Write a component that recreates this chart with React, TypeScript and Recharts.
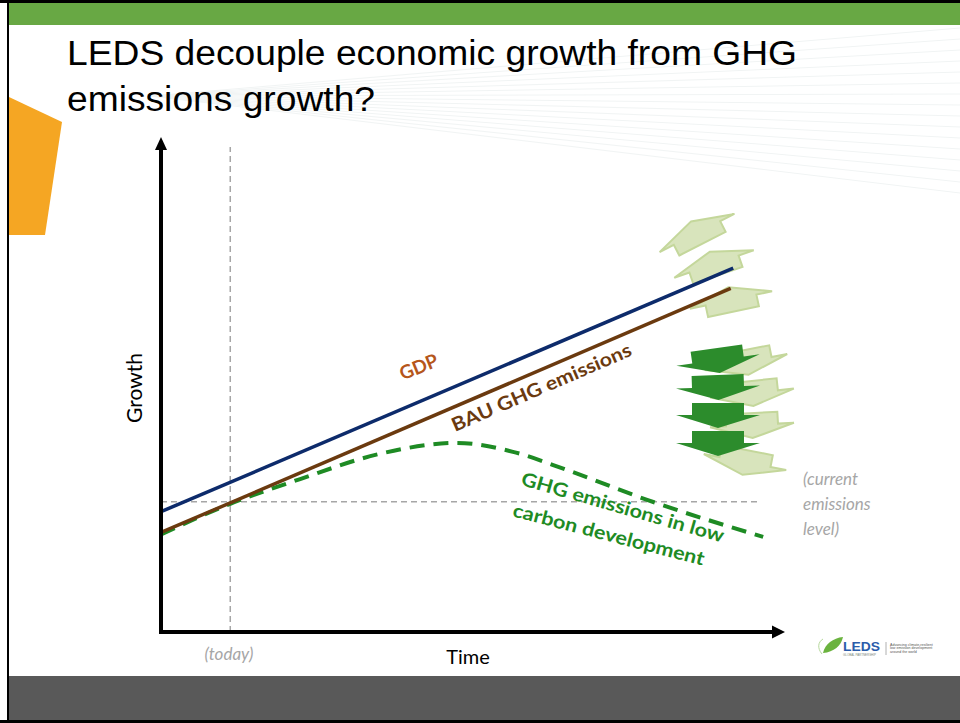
import React from 'react';
import { LineChart, Line, XAxis, YAxis, ReferenceLine, ReferenceDot } from 'recharts';

// conceptual chart: time (0-100) vs growth (0-100), no real units
const gdpTime = [0, 91.7];
const gdpLevel = [24.3, 73.5];
const bauTime = [0, 91.3];
const bauLevel = [20.1, 69.4];
const lowTime = [0, 11.1, 22.3, 35.1, 47.4, 56.4, 65.1, 77.9, 96.5];
const lowLevel = [19.7, 25.9, 30.9, 36.0, 38.2, 36.4, 32.7, 26.7, 19.2];
const todayTime = 11.1;
const currentLevel = 26.3;

const toRows = (ts: number[], vs: number[]) => ts.map((t, i) => ({ t, v: vs[i] }));

const labelText = ['GDP', 'BAU GHG emissions', 'GHG emissions in low', 'carbon development'];
const labelTime = [41.7, 61.4, 73.7, 71.5];
const labelLevel = [52.3, 48.2, 23.9, 18.4];
const labelAngle = [-22, -23.4, 16, 14.5];
const labelColor = ['#B5561B', '#6B3A0F', '#1E8B24', '#1E8B24'];
const labelLen = [40, 194, 210, 197];

const CALIBRI = 'Lato, "Open Sans", sans-serif';

// block arrow polygon, centred on the wing line
function arrowPoints(cx: number, cy: number, angle: number, dir: number) {
  const w = 42, b = 26, h = 13, bh = 12;
  const pts = [[-b, -bh], [b, -bh], [b, 0], [w, 0], [0, h], [-w, 0], [-b, 0]];
  const a = (angle * Math.PI) / 180;
  return pts
    .map(([x, y]) => {
      const yy = y * dir;
      return `${(cx + x * Math.cos(a) - yy * Math.sin(a)).toFixed(1)},${(cy + x * Math.sin(a) + yy * Math.cos(a)).toFixed(1)}`;
    })
    .join(' ');
}

const lightUp = [[697, 233, -27], [714, 264, -19], [731, 300, -12]];
const lightDown = [[746, 362, -11], [752, 393, -6], [752, 425, -3], [745, 462, 11]];
const darkDown = [[718, 360, -8], [718, 387, -2], [718, 415, 0], [718, 443, 0]];

function Slide() {
  const fan = Array.from({ length: 16 }, (_, i) => i);
  return (
    <svg width={960} height={723} style={{ position: 'absolute', left: 0, top: 0 }}>
      <rect x={0} y={0} width={960} height={723} fill="#fff" />
      {fan.map((i) => (
        <line key={i} x1={150} y1={96} x2={960} y2={28 + i * 11} stroke="#F1F4F4" strokeWidth={1} />
      ))}
      <rect x={9} y={3} width={951} height={22} fill="#68A844" />
      <rect x={9} y={676} width={951} height={44} fill="#595959" />
      <rect x={0} y={0} width={960} height={3} fill="#000" />
      <rect x={7} y={0} width={2} height={723} fill="#000" />
      <rect x={0} y={720} width={960} height={3} fill="#000" />
      <polygon points="9,97 62,122 45,235 9,235" fill="#F5A623" />

      <text x={67} y={65} fontFamily='"Liberation Sans", Arial, sans-serif' fontSize={35} fill="#000"
        textLength={730} lengthAdjust="spacingAndGlyphs">LEDS decouple economic growth from GHG</text>
      <text x={67} y={111} fontFamily='"Liberation Sans", Arial, sans-serif' fontSize={35} fill="#000"
        textLength={308} lengthAdjust="spacingAndGlyphs">emissions growth?</text>

      {lightUp.map(([x, y, a], i) => (
        <polygon key={'u' + i} points={arrowPoints(x, y, a, -1)} fill="#D8E4BC" stroke="#C4D79B" strokeWidth={2} />
      ))}
      {lightDown.map(([x, y, a], i) => (
        <polygon key={'d' + i} points={arrowPoints(x, y, a, 1)} fill="#D8E4BC" stroke="#C4D79B" strokeWidth={2} />
      ))}
      {darkDown.map(([x, y, a], i) => (
        <polygon key={'k' + i} points={arrowPoints(x, y, a, 1)} fill="#2C8C2C" />
      ))}

      <text x={142} y={388} transform="rotate(-90 142 388)" textAnchor="middle" fontFamily={CALIBRI} fontSize={21} fill="#000">Growth</text>
      <text x={468} y={664} textAnchor="middle" fontFamily={CALIBRI} fontSize={20} fill="#000">Time</text>
      <text x={229} y={660} textAnchor="middle" fontFamily={CALIBRI} fontStyle="italic" fontSize={17} fill="#A6A6A6">(today)</text>
      <g fontFamily={CALIBRI} fontStyle="italic" fontSize={17} fill="#A6A6A6">
        <text x={803} y={485}>(current</text>
        <text x={803} y={510}>emissions</text>
        <text x={803} y={535}>level)</text>
      </g>

      <path d="M823,653 C825,644 833,638 843,637 C841,646 834,652 823,653 Z" fill="#6BB33F" />
      <path d="M822,654 C817,648 818,642 823,639" fill="none" stroke="#B5D89A" strokeWidth={1} />
      <text x={843} y={651} fontFamily='"Liberation Sans", Arial, sans-serif' fontWeight="bold" fontSize={13}
        fill="#2A5CAA" textLength={37} lengthAdjust="spacingAndGlyphs">LEDS</text>
      <text x={843} y={655.5} fontFamily='"Liberation Sans", Arial, sans-serif' fontSize={3.5} fill="#7A8A7A"
        textLength={33} lengthAdjust="spacingAndGlyphs">GLOBAL PARTNERSHIP</text>
      <line x1={886} y1={642} x2={886} y2={655} stroke="#B0B0B0" strokeWidth={1} />
      <g fontFamily='"Liberation Sans", Arial, sans-serif' fontSize={3.6} fill="#555">
        <text x={890} y={645.5}>Advancing climate-resilient</text>
        <text x={890} y={649}>low emission development</text>
        <text x={890} y={652.5}>around the world</text>
      </g>
    </svg>
  );
}

const SeriesLabel = (i: number) => (props: any) => {
  const { cx, cy } = props;
  return (
    <text x={cx} y={cy} textAnchor="middle" transform={`rotate(${labelAngle[i]} ${cx} ${cy})`}
      fontFamily={CALIBRI} fontWeight="bold" fontSize={19} fill={labelColor[i]}
      textLength={labelLen[i]} lengthAdjust="spacingAndGlyphs">
      {labelText[i]}
    </text>
  );
};

const ArrowRight = (props: any) => {
  const { cx, cy } = props;
  return <polygon points={`${cx},${cy} ${cx - 13},${cy - 6.5} ${cx - 13},${cy + 6.5}`} fill="#000" />;
};
const ArrowUp = (props: any) => {
  const { cx, cy } = props;
  return <polygon points={`${cx},${cy} ${cx - 6},${cy + 13} ${cx + 6},${cy + 13}`} fill="#000" />;
};

export default function App() {
  return (
    <div style={{ position: 'absolute', left: 0, top: 0, width: 960, height: 723, overflow: 'hidden', background: '#fff' }}>
      <Slide />
      <div style={{ position: 'absolute', left: 0, top: 0 }}>
        <LineChart width={960} height={723} margin={{ top: 137, right: 175, bottom: 91, left: 161 }}>
          <XAxis type="number" dataKey="t" domain={[0, 100]} hide allowDataOverflow />
          <YAxis type="number" dataKey="v" domain={[0, 100]} hide allowDataOverflow />
          <ReferenceLine segment={[{ x: todayTime, y: 0 }, { x: todayTime, y: 98 }]}
            stroke="#A6A6A6" strokeWidth={1.5} strokeDasharray="6 4" />
          <ReferenceLine segment={[{ x: 0, y: currentLevel }, { x: 96, y: currentLevel }]}
            stroke="#A6A6A6" strokeWidth={1.5} strokeDasharray="6 4" />
          <Line data={toRows(lowTime, lowLevel)} dataKey="v" type="monotone" stroke="#1E8B24" strokeWidth={4}
            strokeDasharray="15 9" dot={false} isAnimationActive={false} />
          <Line data={toRows(bauTime, bauLevel)} dataKey="v" type="linear" stroke="#6B3A0F" strokeWidth={3.5}
            dot={false} isAnimationActive={false} />
          <Line data={toRows(gdpTime, gdpLevel)} dataKey="v" type="linear" stroke="#0D2B6B" strokeWidth={3.5}
            dot={false} isAnimationActive={false} />
          <ReferenceLine segment={[{ x: 0, y: 0 }, { x: 98, y: 0 }]} stroke="#000" strokeWidth={4} strokeLinecap="square" />
          <ReferenceLine segment={[{ x: 0, y: 0 }, { x: 0, y: 98 }]} stroke="#000" strokeWidth={4} strokeLinecap="square" />
          <ReferenceDot x={100} y={0} r={1} shape={ArrowRight} />
          <ReferenceDot x={0} y={100} r={1} shape={ArrowUp} />
          {labelText.map((_, i) => (
            <ReferenceDot key={i} x={labelTime[i]} y={labelLevel[i]} r={1} shape={SeriesLabel(i)} />
          ))}
        </LineChart>
      </div>
    </div>
  );
}
